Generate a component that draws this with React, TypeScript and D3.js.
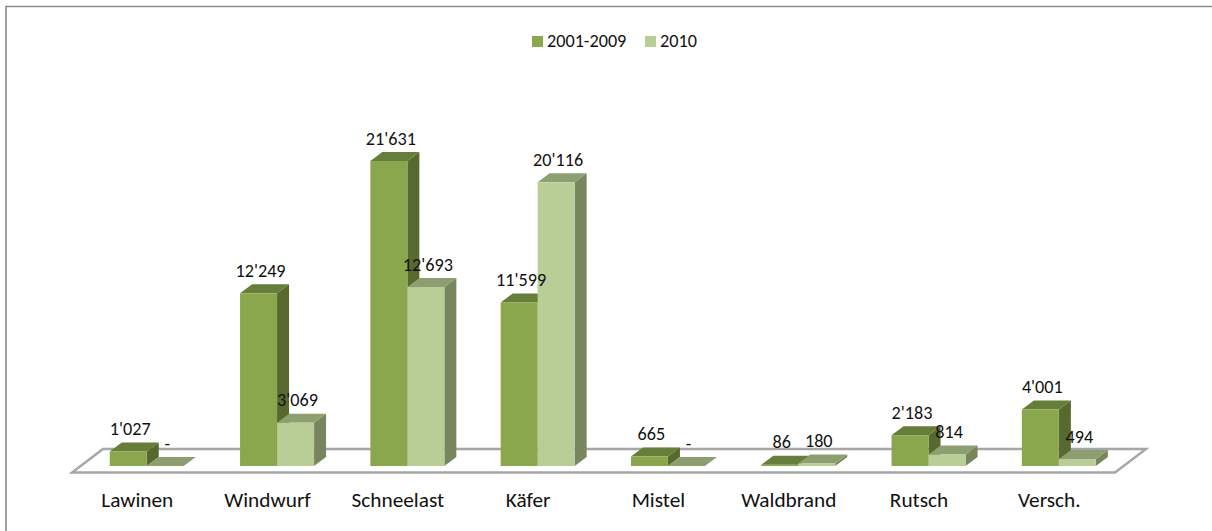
import React from "react";
import * as d3 from "d3";

const categories = ["Lawinen", "Windwurf", "Schneelast", "Käfer", "Mistel", "Waldbrand", "Rutsch", "Versch."];
const seriesNames = ["2001-2009", "2010"];
const values2001 = [1027, 12249, 21631, 11599, 665, 86, 2183, 4001];
const values2010 = [0, 3069, 12693, 20116, 0, 180, 814, 494];
const labels2001 = ["1'027", "12'249", "21'631", "11'599", "665", "86", "2'183", "4'001"];
const labels2010 = ["-", "3'069", "12'693", "20'116", "-", "180", "814", "494"];

const W = 1212, H = 531;
const FONT = "Carlito, Lato, 'Open Sans', sans-serif";
const base = 466;
const dx = 12, dy = 9;
const barW = 37;
const y = d3.scaleLinear().domain([0, 21631]).range([base, 161]);
const x = d3.scaleBand<string>().domain(categories).range([81.6, 1124]).paddingInner(0).paddingOuter(0);
const palettes = [
  { front: "#8aa74d", top: "#667e39", side: "#57692f" },
  { front: "#b9ce96", top: "#8d9f70", side: "#78865f" },
];

function poly(pts: [number, number][]) {
  return d3.line()(pts) + "Z";
}

function Bar({ x0, v, i }: { x0: number; v: number; i: number }) {
  const p = palettes[i];
  const t = y(v);
  const x1 = x0 + barW;
  return (
    <g>
      <path d={poly([[x1, t], [x1 + dx, t - dy], [x1 + dx, base - dy], [x1, base]])} fill={p.side} />
      <path d={poly([[x0, t], [x0 + dx, t - dy], [x1 + dx, t - dy], [x1, t]])} fill={p.top} />
      <rect x={x0} y={t} width={barW} height={base - t} fill={p.front} />
    </g>
  );
}

export default function App() {
  return (
    <svg width={W} height={H} style={{ position: "absolute", left: 0, top: 0, background: "#fff" }} fontFamily={FONT}>
      <path d="M6 531V6.5H1212" fill="none" stroke="#8c8c8c" strokeWidth={1.6} />
      <path d={poly([[72, 472.5], [1115, 472.5], [1146, 449], [103, 449]])} fill="#fff" stroke="#a6a6a6" strokeWidth={2.4} />
      {categories.map((c, k) => {
        const x0 = x(c)! + x.bandwidth() / 2 - barW;
        return (
          <g key={c}>
            <Bar x0={x0} v={values2001[k]} i={0} />
            <Bar x0={x0 + barW} v={values2010[k]} i={1} />
          </g>
        );
      })}
      <g textAnchor="middle" fill="#111">
        {categories.map((c, k) => {
          const cx = x(c)! + x.bandwidth() / 2;
          const x0 = cx - barW;
          return (
            <g key={c}>
              <text x={x0 + barW / 2 + 2} y={y(values2001[k]) - 16.5} fontSize={18.2}>{labels2001[k]}</text>
              <text x={x0 + barW * 1.5 + 2} y={y(values2010[k]) - 16.5} fontSize={18.2}>{labels2010[k]}</text>
              <text x={cx - 9.5} y={507} fontSize={21.3}>{c}</text>
            </g>
          );
        })}
      </g>
      <g fill="#111" fontSize={18.2}>
        <rect x={532} y={36} width={11} height={11} fill={palettes[0].front} />
        <text x={547} y={47}>{seriesNames[0]}</text>
        <rect x={645} y={36} width={11} height={11} fill={palettes[1].front} />
        <text x={660} y={47}>{seriesNames[1]}</text>
      </g>
    </svg>
  );
}
